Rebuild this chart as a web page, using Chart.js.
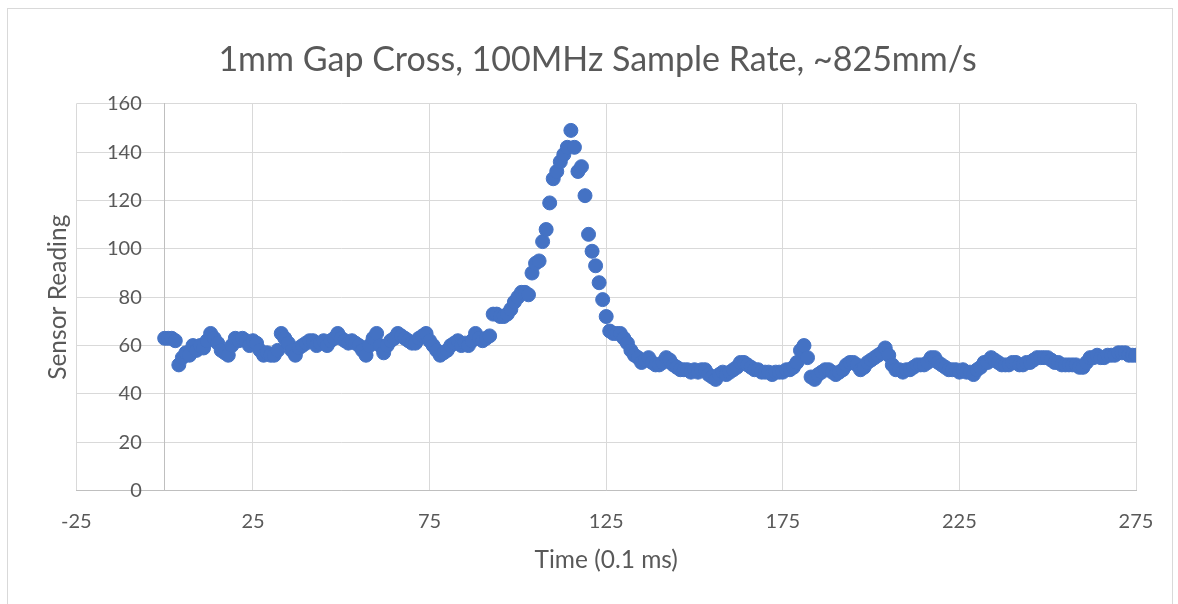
<!DOCTYPE html>
<html>
<head>
<meta charset="utf-8">
<script src="https://cdn.jsdelivr.net/npm/chart.js@4.4.1/dist/chart.umd.min.js"></script>
<style>
html, body { margin: 0; padding: 0; background: #fff; }
#wrap { position: relative; width: 1178px; height: 604px; overflow: hidden; }
#frame { position: absolute; left: 7px; top: 8px; width: 1164px; height: 620px; border: 1px solid #d9d9d9; pointer-events: none; }
</style>
</head>
<body>
<div id="wrap">
  <canvas id="chart" width="1178" height="604"></canvas>
  <div id="frame"></div>
</div>
<script>
const chartTitle = '1mm Gap Cross, 100MHz Sample Rate, ~825mm/s';
const xTitle = 'Time (0.1 ms)';
const yTitle = 'Sensor Reading';

// one reading per sample, sample index = time in 0.1 ms
const sensorReadings = [
  63, 63, 63, 62, 52, 55, 57, 56, 60, 58,
  60, 59, 62, 65, 63, 61, 58, 57, 56, 60,
  63, 62, 63, 62, 60, 62, 61, 58, 56, 57,
  56, 56, 58, 65, 63, 61, 58, 56, 59, 60,
  61, 62, 62, 60, 61, 62, 60, 62, 63, 65,
  63, 62, 61, 62, 61, 60, 58, 56, 60, 63,
  65, 60, 57, 60, 62, 63, 65, 64, 63, 62,
  61, 61, 63, 64, 65, 62, 60, 58, 56, 57,
  58, 60, 61, 62, 60, 61, 60, 62, 65, 63,
  62, 63, 64, 73, 73, 72, 72, 73, 75, 78,
  80, 82, 82, 81, 90, 94, 95, 103, 108, 119,
  129, 132, 136, 139, 142, 149, 142, 132, 134, 122,
  106, 99, 93, 86, 79, 72, 66, 65, 65, 65,
  63, 61, 58, 56, 55, 53, 54, 55, 53, 52,
  52, 53, 55, 54, 52, 51, 50, 50, 50, 49,
  50, 49, 50, 50, 48, 47, 46, 48, 49, 48,
  49, 50, 51, 53, 53, 52, 51, 50, 50, 49,
  49, 49, 48, 49, 49, 49, 50, 50, 51, 53,
  58, 60, 55, 47, 46, 48, 49, 50, 50, 49,
  48, 49, 50, 52, 53, 53, 52, 50, 51, 53,
  54, 55, 56, 57, 59, 56, 52, 50, 50, 49,
  50, 50, 51, 52, 52, 52, 53, 55, 55, 53,
  52, 51, 50, 50, 50, 49, 50, 49, 49, 48,
  50, 51, 53, 53, 55, 54, 53, 52, 52, 52,
  53, 53, 52, 52, 53, 53, 54, 55, 55, 55,
  55, 54, 53, 53, 52, 52, 52, 52, 52, 51,
  51, 53, 55, 55, 56, 55, 55, 56, 56, 56,
  57, 57, 57, 56, 56, 56
];

const xTicks = [-25, 25, 75, 125, 175, 225, 275];
const yTicks = [0, 20, 40, 60, 80, 100, 120, 140, 160];

const FONT = 'Lato, "Open Sans", sans-serif';
const TEXT = '#595959';
const GRID = '#d9d9d9';
const AXIS = '#bfbfbf';
const BLUE = '#4472c4';

const points = sensorReadings.map((v, i) => ({ x: i, y: v }));

new Chart(document.getElementById('chart'), {
    type: 'scatter',
    data: {
        datasets: [{
            data: points,
            yAxisID: 'y',
            backgroundColor: BLUE,
            borderColor: BLUE,
            borderWidth: 1,
            pointRadius: 7,
            pointHoverRadius: 7
        }]
    },
    options: {
        responsive: false,
        animation: false,
        devicePixelRatio: 1,
        layout: { padding: { top: 10, left: 59, right: 42, bottom: 25 } },
        plugins: {
            legend: { display: false },
            tooltip: { enabled: false },
            title: {
                display: true,
                text: chartTitle,
                color: TEXT,
                font: { family: FONT, size: 34, weight: 'normal' },
                padding: { top: 30, bottom: 23 }
            }
        },
        scales: {
            x: {
                type: 'linear',
                position: 'bottom',
                min: xTicks[0],
                max: xTicks[xTicks.length - 1],
                afterBuildTicks: s => { s.ticks = xTicks.map(v => ({ value: v })); },
                ticks: { color: TEXT, font: { family: FONT, size: 20 }, padding: 19, maxRotation: 0 },
                grid: { color: GRID, drawTicks: false },
                border: { color: AXIS },
                title: {
                    display: true,
                    text: xTitle,
                    color: TEXT,
                    font: { family: FONT, size: 24.5 },
                    padding: { top: -7, bottom: 4 }
                }
            },
            // tick labels + horizontal gridlines, labels end just left of x = 0
            y: {
                type: 'linear',
                position: { x: -6.5 },
                min: yTicks[0],
                max: yTicks[yTicks.length - 1],
                afterBuildTicks: s => { s.ticks = yTicks.map(v => ({ value: v })); },
                ticks: { color: TEXT, font: { family: FONT, size: 20 }, padding: 0 },
                grid: { color: GRID, drawTicks: false },
                border: { display: false }
            },
            // the vertical axis line crossing at x = 0
            yLine: {
                type: 'linear',
                position: { x: 0 },
                min: yTicks[0],
                max: yTicks[yTicks.length - 1],
                ticks: { display: false },
                grid: { display: false, drawTicks: false },
                border: { display: true, color: AXIS }
            },
            yLabel: {
                type: 'linear',
                position: 'left',
                ticks: { display: false },
                grid: { display: false, drawTicks: false },
                border: { display: false },
                title: {
                    display: true,
                    text: yTitle,
                    color: TEXT,
                    font: { family: FONT, size: 24.5 },
                    padding: { top: -16, bottom: 4 }
                }
            }
        }
    }
});
</script>
</body>
</html>
